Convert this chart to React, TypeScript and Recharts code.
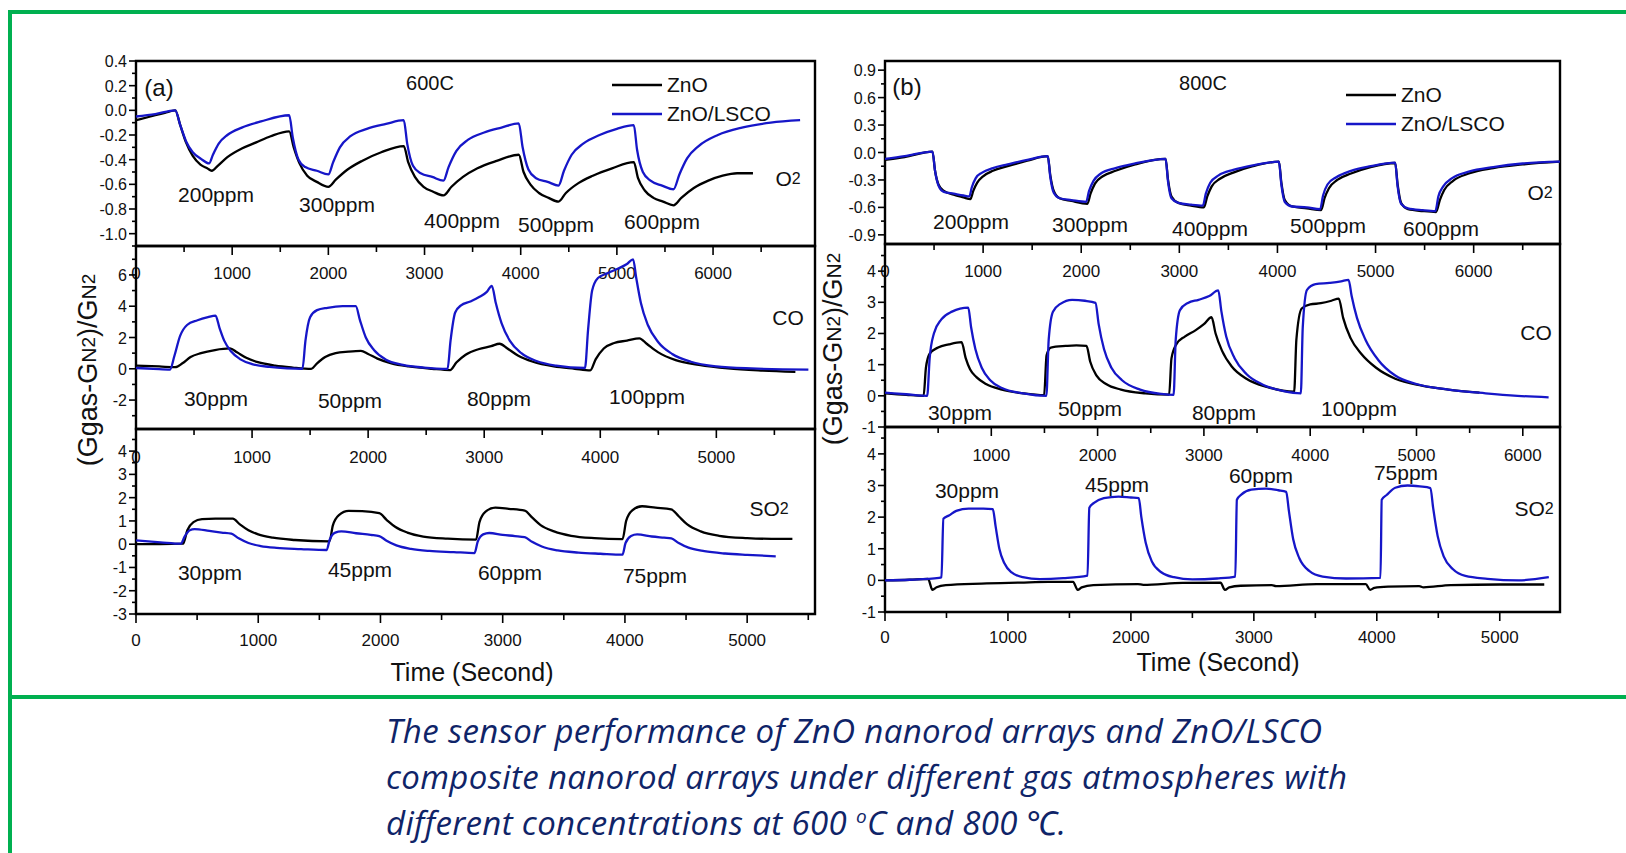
import React from 'react';
import { LineChart, Line, XAxis, YAxis, ReferenceArea, Legend } from 'recharts';

const FONT = '"Liberation Sans", Arial, Helvetica, sans-serif';
const BLUE = '#1616c8';
const GREEN = '#00b050';

// ---------- (a) 600C ----------
const a600O2ZnO = [
  [0, -0.08], [150, -0.05], [300, -0.02], [408, 0.0],
  [460, -0.12], [520, -0.26], [590, -0.37], [670, -0.44], [740, -0.47], [788, -0.49],
  [850, -0.45], [950, -0.38], [1100, -0.31], [1250, -0.26], [1400, -0.21], [1593, -0.17],
  [1640, -0.3], [1700, -0.43], [1780, -0.53], [1880, -0.58], [2000, -0.62],
  [2080, -0.56], [2200, -0.48], [2350, -0.41], [2550, -0.34], [2784, -0.29],
  [2830, -0.42], [2900, -0.54], [2990, -0.62], [3090, -0.66], [3197, -0.69],
  [3280, -0.62], [3400, -0.54], [3550, -0.47], [3750, -0.41], [3980, -0.36],
  [4030, -0.5], [4100, -0.6], [4190, -0.67], [4290, -0.71], [4393, -0.74],
  [4470, -0.67], [4600, -0.59], [4750, -0.53], [4950, -0.47], [5176, -0.42],
  [5220, -0.55], [5290, -0.65], [5380, -0.71], [5480, -0.74], [5589, -0.77],
  [5670, -0.71], [5800, -0.63], [5950, -0.57], [6100, -0.53], [6250, -0.51], [6415, -0.51],
];
const a600O2LSCO = [
  [0, -0.05], [200, -0.03], [408, 0.0],
  [460, -0.12], [520, -0.25], [590, -0.34], [670, -0.39], [760, -0.43],
  [800, -0.36], [860, -0.27], [950, -0.2], [1100, -0.14], [1300, -0.09], [1593, -0.04],
  [1630, -0.22], [1690, -0.4], [1760, -0.46], [1880, -0.49], [2000, -0.52],
  [2050, -0.42], [2120, -0.3], [2230, -0.21], [2400, -0.15], [2600, -0.11], [2784, -0.08],
  [2820, -0.27], [2880, -0.45], [2960, -0.51], [3080, -0.54], [3197, -0.57],
  [3250, -0.46], [3330, -0.33], [3450, -0.24], [3620, -0.18], [3800, -0.14], [3980, -0.105],
  [4020, -0.3], [4080, -0.48], [4160, -0.55], [4280, -0.58], [4393, -0.61],
  [4450, -0.49], [4530, -0.36], [4650, -0.27], [4820, -0.2], [5000, -0.15], [5176, -0.12],
  [5210, -0.32], [5270, -0.5], [5350, -0.57], [5470, -0.61], [5589, -0.64],
  [5650, -0.52], [5730, -0.39], [5850, -0.29], [6050, -0.2], [6300, -0.14], [6600, -0.1], [6905, -0.08],
];
const a600COZnO = [
  [0, 0.2], [200, 0.15], [337, 0.1], [400, 0.35], [470, 0.75], [560, 1.0], [680, 1.2], [810, 1.3],
  [870, 1.05], [950, 0.7], [1050, 0.42], [1200, 0.2], [1350, 0.08], [1510, 0.0],
  [1560, 0.35], [1630, 0.75], [1720, 1.0], [1830, 1.1], [1938, 1.15],
  [2000, 0.95], [2080, 0.65], [2200, 0.35], [2350, 0.15], [2550, 0.0], [2706, -0.08],
  [2760, 0.4], [2840, 0.9], [2950, 1.25], [3060, 1.45], [3133, 1.6],
  [3200, 1.3], [3290, 0.85], [3420, 0.45], [3600, 0.15], [3780, 0.0], [3914, -0.1],
  [3960, 0.6], [4030, 1.3], [4120, 1.65], [4230, 1.8], [4337, 1.95],
  [4400, 1.6], [4500, 1.05], [4650, 0.55], [4850, 0.25], [5100, 0.02], [5400, -0.12], [5681, -0.2],
];
const a600COLSCO = [
  [0, 0.05], [150, 0.0], [293, -0.05], [330, 0.8], [380, 2.1], [440, 2.8], [530, 3.1], [620, 3.3], [685, 3.4],
  [720, 2.6], [760, 1.8], [820, 1.1], [900, 0.6], [1000, 0.3], [1150, 0.12], [1300, 0.03], [1434, 0.0],
  [1460, 1.8], [1500, 3.3], [1560, 3.75], [1650, 3.9], [1780, 4.0], [1893, 4.0],
  [1930, 3.1], [1980, 2.0], [2050, 1.2], [2150, 0.6], [2300, 0.25], [2480, 0.08], [2684, 0.0],
  [2710, 1.8], [2750, 3.6], [2800, 4.05], [2880, 4.3], [2960, 4.6], [3020, 4.9], [3066, 5.3],
  [3100, 4.2], [3150, 2.9], [3220, 1.8], [3320, 1.0], [3450, 0.5], [3620, 0.2], [3868, 0.05],
  [3895, 2.5], [3930, 5.0], [3980, 5.8], [4060, 6.1], [4150, 6.4], [4230, 6.7], [4283, 7.0],
  [4310, 5.8], [4350, 4.2], [4410, 2.8], [4500, 1.7], [4620, 0.95], [4780, 0.45], [5000, 0.15], [5300, 0.02], [5793, -0.05],
];
const a600SO2ZnO = [
  [0, 0.0], [200, 0.0], [385, 0.02], [420, 0.6], [470, 0.95], [540, 1.08], [650, 1.1], [792, 1.1],
  [850, 0.85], [920, 0.6], [1000, 0.42], [1120, 0.28], [1300, 0.18], [1583, 0.12],
  [1610, 0.8], [1660, 1.25], [1740, 1.43], [1850, 1.42], [1990, 1.33],
  [2050, 1.05], [2120, 0.75], [2220, 0.5], [2350, 0.33], [2550, 0.24], [2782, 0.2],
  [2810, 0.95], [2860, 1.4], [2940, 1.57], [3050, 1.52], [3180, 1.44],
  [3240, 1.15], [3310, 0.82], [3420, 0.55], [3560, 0.36], [3750, 0.26], [3981, 0.22],
  [4010, 1.0], [4060, 1.45], [4140, 1.63], [4250, 1.57], [4378, 1.5],
  [4440, 1.2], [4510, 0.85], [4620, 0.55], [4770, 0.36], [5000, 0.26], [5200, 0.23], [5370, 0.23],
];
const a600SO2LSCO = [
  [0, 0.16], [200, 0.08], [366, 0.02], [400, 0.35], [440, 0.6], [480, 0.65], [600, 0.57], [700, 0.5], [780, 0.45],
  [840, 0.25], [920, 0.05], [1020, -0.08], [1150, -0.16], [1350, -0.21], [1560, -0.25],
  [1585, 0.2], [1630, 0.5], [1680, 0.55], [1800, 0.47], [1920, 0.4], [1990, 0.35],
  [2050, 0.15], [2130, -0.05], [2250, -0.2], [2400, -0.29], [2600, -0.34], [2770, -0.38],
  [2795, 0.1], [2840, 0.42], [2890, 0.48], [3000, 0.4], [3100, 0.35], [3180, 0.3],
  [3240, 0.1], [3320, -0.1], [3450, -0.27], [3620, -0.36], [3800, -0.41], [3980, -0.45],
  [4005, 0.05], [4050, 0.35], [4100, 0.42], [4220, 0.33], [4320, 0.28], [4380, 0.25],
  [4440, 0.05], [4520, -0.15], [4650, -0.3], [4820, -0.4], [5000, -0.46], [5234, -0.52],
];

// ---------- (b) 800C ----------
const b800O2ZnO = [
  [0, -0.08], [200, -0.05], [484, 0.01],
  [510, -0.2], [545, -0.35], [600, -0.42], [700, -0.46], [800, -0.49], [870, -0.51],
  [900, -0.42], [940, -0.33], [1000, -0.26], [1100, -0.2], [1250, -0.15], [1450, -0.09], [1659, -0.04],
  [1685, -0.25], [1720, -0.42], [1780, -0.5], [1900, -0.53], [2063, -0.56],
  [2095, -0.45], [2140, -0.34], [2220, -0.26], [2350, -0.2], [2550, -0.13], [2860, -0.07],
  [2885, -0.3], [2920, -0.48], [2990, -0.55], [3120, -0.58], [3250, -0.6],
  [3285, -0.48], [3330, -0.37], [3410, -0.29], [3550, -0.22], [3750, -0.15], [4015, -0.1],
  [4040, -0.33], [4075, -0.52], [4150, -0.59], [4300, -0.61], [4445, -0.63],
  [4480, -0.5], [4525, -0.39], [4610, -0.3], [4750, -0.23], [4950, -0.16], [5200, -0.115],
  [5225, -0.35], [5260, -0.55], [5330, -0.62], [5480, -0.64], [5617, -0.65],
  [5655, -0.52], [5700, -0.41], [5790, -0.31], [5950, -0.23], [6200, -0.17], [6500, -0.13], [6880, -0.1],
];
const b800O2LSCO = [
  [0, -0.07], [200, -0.04], [484, 0.01],
  [510, -0.2], [545, -0.36], [600, -0.43], [700, -0.45], [800, -0.47], [860, -0.48],
  [885, -0.38], [925, -0.28], [990, -0.22], [1100, -0.17], [1250, -0.13], [1450, -0.08], [1659, -0.04],
  [1685, -0.27], [1720, -0.44], [1780, -0.5], [1900, -0.52], [2050, -0.54],
  [2080, -0.42], [2125, -0.31], [2200, -0.23], [2350, -0.17], [2550, -0.12], [2860, -0.07],
  [2885, -0.32], [2920, -0.5], [2990, -0.55], [3120, -0.57], [3240, -0.58],
  [3270, -0.45], [3315, -0.33], [3400, -0.25], [3550, -0.19], [3750, -0.14], [4015, -0.1],
  [4040, -0.35], [4075, -0.54], [4150, -0.59], [4300, -0.6], [4435, -0.62],
  [4465, -0.47], [4510, -0.35], [4600, -0.27], [4750, -0.2], [4950, -0.15], [5200, -0.11],
  [5225, -0.37], [5260, -0.56], [5330, -0.61], [5480, -0.63], [5610, -0.64],
  [5640, -0.48], [5690, -0.37], [5780, -0.28], [5950, -0.21], [6200, -0.16], [6500, -0.12], [6880, -0.1],
];
const b800COZnO = [
  [0, 0.08], [200, 0.03], [363, 0.0], [385, 0.9], [420, 1.35], [500, 1.55], [600, 1.65], [720, 1.72],
  [760, 1.2], [800, 0.85], [860, 0.6], [950, 0.38], [1100, 0.2], [1300, 0.08], [1497, 0.02],
  [1520, 1.3], [1560, 1.55], [1700, 1.6], [1800, 1.62], [1896, 1.6],
  [1930, 1.1], [1990, 0.65], [2080, 0.38], [2220, 0.2], [2450, 0.08], [2673, 0.04],
  [2695, 1.2], [2740, 1.65], [2820, 1.9], [2920, 2.1], [3000, 2.3], [3072, 2.52],
  [3110, 2.0], [3170, 1.45], [3260, 0.95], [3400, 0.55], [3600, 0.28], [3849, 0.13],
  [3870, 1.8], [3920, 2.8], [4000, 2.93], [4100, 2.97], [4200, 3.05], [4269, 3.12],
  [4310, 2.5], [4380, 1.85], [4480, 1.35], [4620, 0.9], [4800, 0.55], [5050, 0.33], [5300, 0.2], [5592, 0.1],
];
const b800COLSCO = [
  [0, 0.1], [200, 0.05], [397, 0.0], [420, 1.2], [460, 2.0], [530, 2.45], [630, 2.7], [783, 2.83],
  [810, 2.2], [850, 1.5], [910, 0.9], [990, 0.5], [1100, 0.25], [1300, 0.08], [1518, 0.0],
  [1540, 1.8], [1580, 2.7], [1650, 2.95], [1760, 3.08], [1880, 3.05], [1980, 2.98],
  [2010, 2.3], [2060, 1.5], [2130, 0.9], [2230, 0.5], [2400, 0.2], [2600, 0.06], [2715, 0.03],
  [2735, 1.8], [2775, 2.75], [2850, 2.98], [2950, 3.08], [3050, 3.2], [3135, 3.38],
  [3165, 2.7], [3210, 1.9], [3290, 1.2], [3400, 0.7], [3560, 0.35], [3750, 0.15], [3912, 0.08],
  [3930, 2.2], [3970, 3.4], [4050, 3.58], [4180, 3.62], [4290, 3.67], [4361, 3.72],
  [4390, 3.2], [4440, 2.5], [4520, 1.8], [4640, 1.15], [4800, 0.65], [5000, 0.38], [5300, 0.2], [5650, 0.08], [5950, 0.0], [6243, -0.05],
];
const b800SO2ZnO = [
  [0, 0.0], [200, 0.02], [350, 0.05], [386, -0.3], [420, -0.22], [495, -0.15], [786, -0.1], [1100, -0.07], [1330, -0.05], [1530, -0.05],
  [1567, -0.3], [1600, -0.22], [1694, -0.15], [2057, -0.12], [2100, -0.14], [2420, -0.08], [2729, -0.07],
  [2765, -0.3], [2800, -0.22], [2893, -0.17], [3147, -0.15], [3180, -0.18], [3510, -0.12], [3910, -0.12],
  [3946, -0.3], [3980, -0.24], [4091, -0.2], [4345, -0.18], [4380, -0.22], [4600, -0.15], [5000, -0.13], [5362, -0.13],
];
const b800SO2LSCO = [
  [0, 0.0], [200, 0.02], [440, 0.08], [459, 0.1], [475, 1.95], [520, 2.05], [580, 2.2], [680, 2.27], [800, 2.27], [877, 2.25],
  [900, 1.7], [930, 1.0], [970, 0.55], [1030, 0.25], [1120, 0.1], [1260, 0.04], [1450, 0.07], [1647, 0.15],
  [1662, 2.3], [1700, 2.45], [1780, 2.6], [1900, 2.65], [2000, 2.62], [2064, 2.6],
  [2085, 2.0], [2120, 1.2], [2170, 0.6], [2250, 0.25], [2350, 0.1], [2500, 0.03], [2700, 0.06], [2849, 0.12],
  [2862, 2.55], [2900, 2.72], [2980, 2.87], [3100, 2.9], [3200, 2.85], [3263, 2.8],
  [3285, 2.2], [3320, 1.3], [3370, 0.7], [3450, 0.3], [3560, 0.12], [3750, 0.06], [4030, 0.08],
  [4040, 2.55], [4080, 2.7], [4150, 2.93], [4250, 3.0], [4350, 2.97], [4436, 2.92],
  [4458, 2.3], [4495, 1.4], [4545, 0.75], [4620, 0.35], [4720, 0.14], [4900, 0.05], [5150, 0.0], [5399, 0.1],
];

// tick values
const xMajor7 = [0, 1000, 2000, 3000, 4000, 5000, 6000];
const xMinor7 = [500, 1500, 2500, 3500, 4500, 5500, 6500];
const xMajor6 = [0, 1000, 2000, 3000, 4000, 5000];
const xMinor6 = [500, 1500, 2500, 3500, 4500, 5500];
const xMinor5 = [500, 1500, 2500, 3500, 4500];
const yMajorA1 = [-1.0, -0.8, -0.6, -0.4, -0.2, 0, 0.2, 0.4];
const yMinorA1 = [-1.1, -0.9, -0.7, -0.5, -0.3, -0.1, 0.1, 0.3];
const yMajorA2 = [-2, 0, 2, 4, 6];
const yMinorA2 = [-3, -1, 1, 3, 5, 7];
const yMajorA3 = [-3, -2, -1, 0, 1, 2, 3, 4];
const yMinorA3 = [-2.5, -1.5, -0.5, 0.5, 1.5, 2.5, 3.5, 4.5];
const yMajorB1 = [-0.9, -0.6, -0.3, 0, 0.3, 0.6, 0.9];
const yMinorB1 = [-0.75, -0.45, -0.15, 0.15, 0.45, 0.75];
const yMajorB2 = [-1, 0, 1, 2, 3, 4];
const yMinorB2 = [-0.5, 0.5, 1.5, 2.5, 3.5, 4.5];

const seriesNames = ['ZnO', 'ZnO/LSCO'];
const seriesColors = ['#000000', BLUE];

const ppmO2 = ['200ppm', '300ppm', '400ppm', '500ppm', '600ppm'];
const ppmCO = ['30ppm', '50ppm', '80ppm', '100ppm'];
const ppmSO2 = ['30ppm', '45ppm', '60ppm', '75ppm'];

type Box = { left: number; top: number; width: number; height: number };
interface SubplotProps {
  box: Box;
  xDomain: [number, number];
  xMajor: number[];
  xMinor: number[];
  xHidden?: number[];
  xLabelDy: number;
  yDomain: [number, number];
  yMajor: number[];
  yMinor: number[];
  yDigits: number;
  lines: number[][][];
  legendAt?: { left: number; top: number };
}

const YW = 70;
const XH = 50;
const PAD = 12;
const has = (arr: number[], v: number) => arr.some((a) => Math.abs(a - v) < 1e-6);
const toPts = (a: number[][]) => a.map(([t, v]) => ({ t, v }));

const LegendBox = (props: any) => {
  const payload = props.payload || [];
  return (
    <svg width={210} height={64}>
      {payload.map((p: any, i: number) => (
        <g key={i}>
          <line x1={0} x2={50} y1={12 + i * 29} y2={12 + i * 29} stroke={p.color} strokeWidth={2.6} />
          <text x={55} y={12 + i * 29} dy={7} fontSize={21} fontFamily={FONT} fill="#111">
            {p.value}
          </text>
        </g>
      ))}
    </svg>
  );
};

function Subplot(p: SubplotProps) {
  const w = YW + p.box.width + PAD;
  const h = PAD + p.box.height + XH;
  const xTick = (props: any) => {
    const { x, y, payload } = props;
    const major = has(p.xMajor, payload.value);
    const label = major && !has(p.xHidden || [], payload.value);
    return (
      <g>
        <line x1={x} x2={x} y1={y} y2={y + (major ? 9 : 6)} stroke="#000" strokeWidth={1.6} />
        {label && (
          <text x={x} y={y + p.xLabelDy} textAnchor="middle" fontSize={17} fontFamily={FONT} fill="#111">
            {payload.value}
          </text>
        )}
      </g>
    );
  };
  const yTick = (props: any) => {
    const { x, y, payload } = props;
    const major = has(p.yMajor, payload.value);
    return (
      <g>
        <line x1={x} x2={x - (major ? 7 : 4)} y1={y} y2={y} stroke="#000" strokeWidth={1.6} />
        {major && (
          <text x={x - 9} y={y} dy={6} textAnchor="end" fontSize={16} fontFamily={FONT} fill="#111">
            {Number(payload.value).toFixed(p.yDigits)}
          </text>
        )}
      </g>
    );
  };
  const xTicks = [...p.xMajor, ...p.xMinor].sort((a, b) => a - b);
  const yTicks = [...p.yMajor, ...p.yMinor].sort((a, b) => a - b);
  return (
    <div style={{ position: 'absolute', left: p.box.left - YW, top: p.box.top - PAD }}>
      <LineChart width={w} height={h} margin={{ top: PAD, right: PAD, bottom: 0, left: 0 }}>
        <XAxis
          type="number"
          dataKey="t"
          domain={p.xDomain}
          ticks={xTicks}
          interval={0}
          allowDataOverflow
          axisLine={false}
          tickLine={false}
          tickSize={0}
          tickMargin={0}
          height={XH}
          tick={xTick}
        />
        <YAxis
          type="number"
          domain={p.yDomain}
          ticks={yTicks}
          interval={0}
          allowDataOverflow
          axisLine={false}
          tickLine={false}
          tickSize={0}
          tickMargin={0}
          width={YW}
          tick={yTick}
        />
        {p.lines.map((d, i) => (
          <Line
            key={seriesNames[i]}
            name={seriesNames[i]}
            data={toPts(d)}
            dataKey="v"
            type="monotone"
            stroke={seriesColors[i]}
            strokeWidth={2.3}
            dot={false}
            isAnimationActive={false}
          />
        ))}
        <ReferenceArea
          x1={p.xDomain[0]}
          x2={p.xDomain[1]}
          y1={p.yDomain[0]}
          y2={p.yDomain[1]}
          fill="none"
          fillOpacity={0}
          stroke="#000"
          strokeWidth={2.4}
          ifOverflow="visible"
        />
        {p.legendAt && (
          <Legend
            layout="vertical"
            align="center"
            verticalAlign="middle"
            wrapperStyle={{ left: p.legendAt.left, top: p.legendAt.top, width: 210, height: 64 }}
            content={<LegendBox />}
          />
        )}
      </LineChart>
    </div>
  );
}

const T = (props: { x: number; y: number; size?: number; children: React.ReactNode; anchor?: string }) => (
  <text
    x={props.x}
    y={props.y}
    textAnchor={(props.anchor as any) || 'middle'}
    dominantBaseline="central"
    fontSize={props.size || 21}
    fontFamily={FONT}
    fill="#111"
  >
    {props.children}
  </text>
);

const YLabel = ({ x, y }: { x: number; y: number }) => (
  <text
    x={x}
    y={y}
    transform={`rotate(-90, ${x}, ${y})`}
    textAnchor="middle"
    dominantBaseline="central"
    fontSize={27}
    fontFamily={FONT}
    fill="#111"
  >
    (Ggas-G<tspan fontSize={21}>N</tspan>
    <tspan fontSize={19}>2</tspan>)/G<tspan fontSize={21}>N</tspan>
    <tspan fontSize={19}>2</tspan>
  </text>
);

const Sub2 = ({ x, y, base }: { x: number; y: number; base: string }) => (
  <text x={x} y={y} textAnchor="middle" dominantBaseline="central" fontSize={21} fontFamily={FONT} fill="#111">
    {base}
    <tspan fontSize={16}>2</tspan>
  </text>
);

const ppmO2PosA = [[216, 194], [337, 204], [462, 220], [556, 224], [662, 221]];
const ppmCOPosA = [[216, 398], [350, 400], [499, 398], [647, 396]];
const ppmSO2PosA = [[210, 572], [360, 569], [510, 572], [655, 575]];
const ppmO2PosB = [[971, 221], [1090, 224], [1210, 228], [1328, 225], [1441, 228]];
const ppmCOPosB = [[960, 412], [1090, 408], [1224, 412], [1359, 408]];
const ppmSO2PosB = [[967, 490], [1117, 484], [1261, 475], [1406, 472]];

export default function App() {
  return (
    <div
      style={{
        position: 'absolute',
        left: 0,
        top: 0,
        width: 1626,
        height: 853,
        overflow: 'hidden',
        background: '#fff',
      }}
    >
      {/* green frame */}
      <div style={{ position: 'absolute', left: 8, top: 10, width: 1618, height: 4, background: GREEN }} />
      <div style={{ position: 'absolute', left: 8, top: 10, width: 4, height: 843, background: GREEN }} />
      <div style={{ position: 'absolute', left: 8, top: 695, width: 1618, height: 4, background: GREEN }} />

      {/* panel (a) */}
      <Subplot
        box={{ left: 136, top: 61, width: 679, height: 185 }}
        xDomain={[0, 7060]}
        xMajor={xMajor7}
        xMinor={xMinor7}
        xLabelDy={33}
        yDomain={[-1.1, 0.4]}
        yMajor={yMajorA1}
        yMinor={yMinorA1}
        yDigits={1}
        lines={[a600O2ZnO, a600O2LSCO]}
        legendAt={{ left: 546, top: 24 }}
      />
      <Subplot
        box={{ left: 136, top: 246, width: 679, height: 183 }}
        xDomain={[0, 5850]}
        xMajor={xMajor6}
        xMinor={xMinor6}
        xLabelDy={34}
        yDomain={[-3.85, 7.85]}
        yMajor={yMajorA2}
        yMinor={yMinorA2}
        yDigits={0}
        lines={[a600COZnO, a600COLSCO]}
      />
      <Subplot
        box={{ left: 136, top: 429, width: 679, height: 185 }}
        xDomain={[0, 5555]}
        xMajor={xMajor6}
        xMinor={xMinor6}
        xLabelDy={32}
        yDomain={[-3, 4.95]}
        yMajor={yMajorA3}
        yMinor={yMinorA3}
        yDigits={0}
        lines={[a600SO2ZnO, a600SO2LSCO]}
      />

      {/* panel (b) */}
      <Subplot
        box={{ left: 885, top: 61, width: 675, height: 183 }}
        xDomain={[0, 6880]}
        xMajor={xMajor7}
        xMinor={xMinor7}
        xLabelDy={33}
        yDomain={[-1.0, 1.0]}
        yMajor={yMajorB1}
        yMinor={yMinorB1}
        yDigits={1}
        lines={[b800O2ZnO, b800O2LSCO]}
        legendAt={{ left: 531, top: 34 }}
      />
      <Subplot
        box={{ left: 885, top: 244, width: 675, height: 183 }}
        xDomain={[0, 6350]}
        xMajor={xMajor7}
        xMinor={xMinor6}
        xHidden={[0]}
        xLabelDy={34}
        yDomain={[-1, 4.87]}
        yMajor={yMajorB2}
        yMinor={yMinorB2}
        yDigits={0}
        lines={[b800COZnO, b800COLSCO]}
      />
      <Subplot
        box={{ left: 885, top: 427, width: 675, height: 185 }}
        xDomain={[0, 5490]}
        xMajor={xMajor6}
        xMinor={xMinor5}
        xLabelDy={31}
        yDomain={[-1, 4.85]}
        yMajor={yMajorB2}
        yMinor={yMinorB2}
        yDigits={0}
        lines={[b800SO2ZnO, b800SO2LSCO]}
      />

      {/* annotations */}
      <svg
        width={1626}
        height={853}
        style={{ position: 'absolute', left: 0, top: 0, pointerEvents: 'none' }}
      >
        <T x={159} y={87} size={24}>(a)</T>
        <T x={430} y={83} size={20}>600C</T>
        <Sub2 x={788} y={178} base="O" />
        <T x={788} y={317}>CO</T>
        <Sub2 x={769} y={508} base="SO" />
        {ppmO2.map((s, i) => <T key={'ao' + i} x={ppmO2PosA[i][0]} y={ppmO2PosA[i][1]}>{s}</T>)}
        {ppmCO.map((s, i) => <T key={'ac' + i} x={ppmCOPosA[i][0]} y={ppmCOPosA[i][1]}>{s}</T>)}
        {ppmSO2.map((s, i) => <T key={'as' + i} x={ppmSO2PosA[i][0]} y={ppmSO2PosA[i][1]}>{s}</T>)}
        <YLabel x={88} y={370} />
        <T x={472} y={672} size={25}>Time (Second)</T>

        <T x={907} y={86} size={24}>(b)</T>
        <T x={1203} y={83} size={20}>800C</T>
        <Sub2 x={1540} y={192} base="O" />
        <T x={1536} y={332}>CO</T>
        <Sub2 x={1534} y={508} base="SO" />
        {ppmO2.map((s, i) => <T key={'bo' + i} x={ppmO2PosB[i][0]} y={ppmO2PosB[i][1]}>{s}</T>)}
        {ppmCO.map((s, i) => <T key={'bc' + i} x={ppmCOPosB[i][0]} y={ppmCOPosB[i][1]}>{s}</T>)}
        {ppmSO2.map((s, i) => <T key={'bs' + i} x={ppmSO2PosB[i][0]} y={ppmSO2PosB[i][1]}>{s}</T>)}
        <YLabel x={833} y={349} />
        <T x={1218} y={662} size={25}>Time (Second)</T>
      </svg>

      {/* caption */}
      <div
        style={{
          position: 'absolute',
          left: 386,
          top: 708,
          width: 1200,
          fontFamily: '"Open Sans", "Noto Sans", sans-serif',
          fontStyle: 'italic',
          fontSize: 33,
          lineHeight: '46px',
          color: '#0f2468',
          letterSpacing: 0.35,
          whiteSpace: 'nowrap',
        }}
      >
        <div>The sensor performance of ZnO nanorod arrays and ZnO/LSCO</div>
        <div>composite nanorod arrays under different gas atmospheres with</div>
        <div>
          different concentrations at 600 <sup style={{ fontSize: 19, lineHeight: 0 }}>o</sup>C and 800 ℃.
        </div>
      </div>
    </div>
  );
}
